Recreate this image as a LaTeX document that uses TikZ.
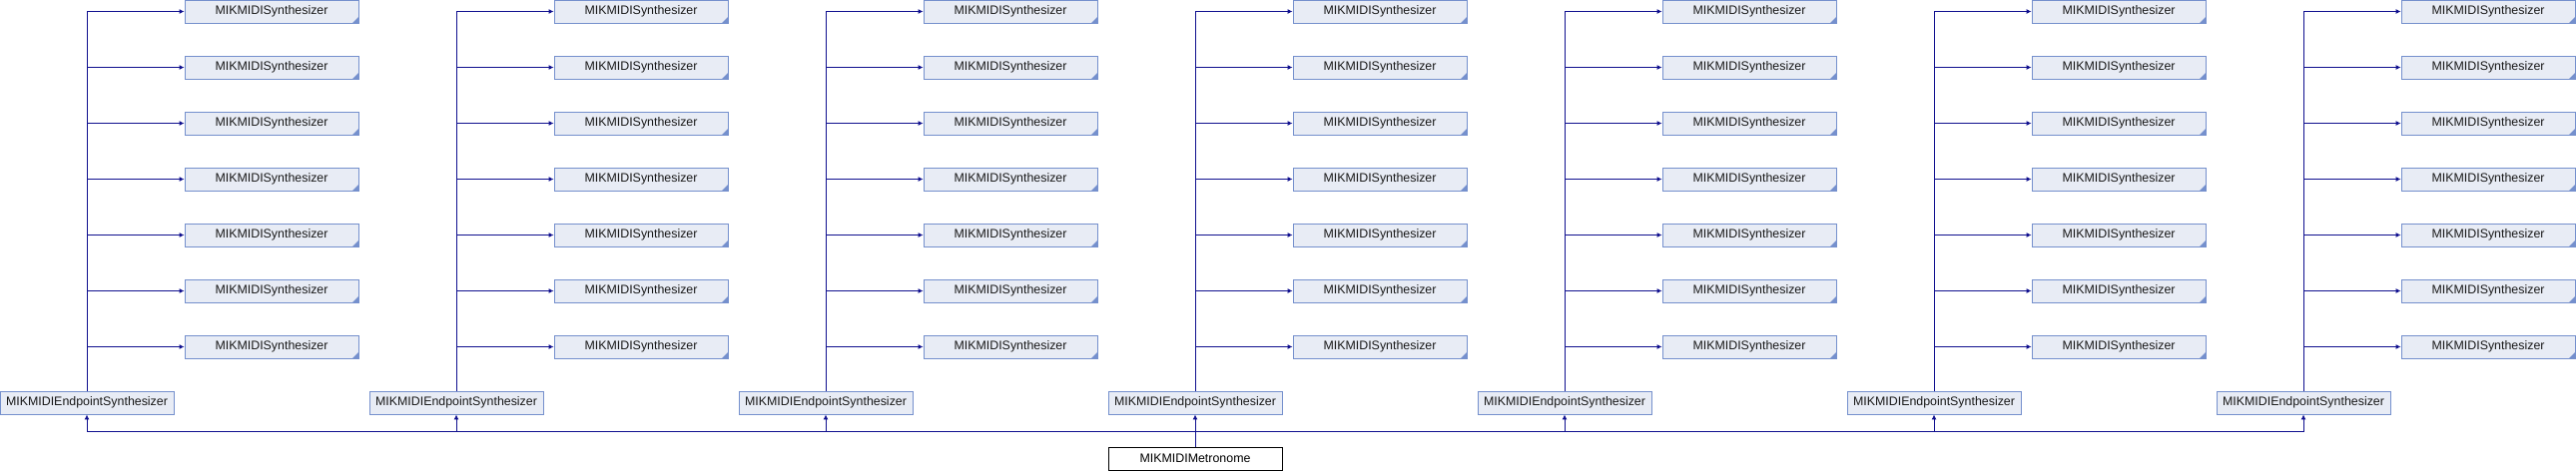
\documentclass[tikz,border=0pt]{standalone}
\usepackage{fontspec}
\setmainfont{Liberation Sans}
\usetikzlibrary{arrows.meta}
\definecolor{edgecol}{HTML}{10108F}
\definecolor{boxfill}{HTML}{E8ECF5}
\definecolor{boxdraw}{HTML}{7590CD}
\tikzset{
  classbox/.style={draw=boxdraw, fill=boxfill, line width=0.9pt, minimum width=174pt, minimum height=23pt, inner sep=0pt, font=\fontsize{12.4}{14}\selectfont, text=black!90},
  extbox/.style={classbox, path picture={\fill[boxdraw] (path picture bounding box.south east) -- ++(-6pt,0pt) -- ++(6pt,6pt) -- cycle;}},
  mainbox/.style={draw=black, fill=white, line width=0.9pt, minimum width=174pt, minimum height=23pt, inner sep=0pt, font=\fontsize{12.4}{14}\selectfont},
  inh/.style={draw=edgecol, line width=0.9pt, -{Latex[length=5pt,width=5pt]}}
}
\begin{document}
\begin{tikzpicture}[x=1pt,y=-1pt]
\useasboundingbox (0,0) rectangle (2580,472);
\node[mainbox] (m) at (1197,459.5) {MIKMIDIMetronome};
\coordinate (bus) at (1197,432);
\foreach \c in {0,...,6}{
  \node[classbox] (e\c) at (87+370*\c,403.5) {MIKMIDIEndpointSynthesizer};
  \foreach \r in {0,...,6}{
    \node[extbox] (s\c-\r) at (272+370*\c,11.5+56*\r) {MIKMIDISynthesizer};
    \draw[inh] (e\c.north) |- (s\c-\r.west);
  }
  \draw[inh] (m.north) -- (bus) -| (e\c.south);
}
\end{tikzpicture}
\end{document}
